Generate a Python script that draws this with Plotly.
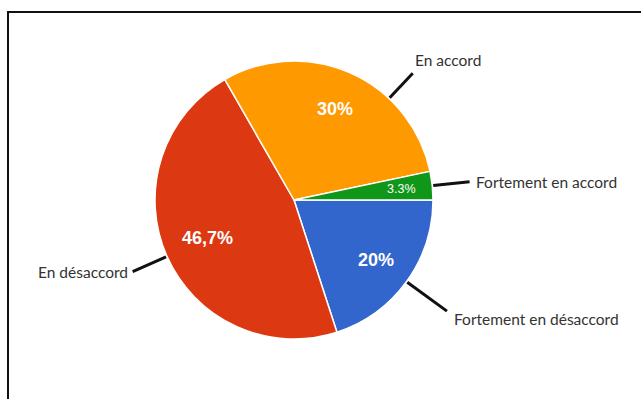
import math
import plotly.graph_objects as go

# Survey answers, clockwise from 3 o'clock
categories = ["Fortement en désaccord", "En désaccord", "En accord", "Fortement en accord"]
values = [20.0, 46.7, 30.0, 3.3]
pct_labels = ["20%", "46,7%", "30%", "3.3%"]
colors = ["#3366CC", "#DC3912", "#FF9900", "#109618"]

W, H = 641, 399
CX, CY, R = 294, 200, 139  # pie centre and radius in pixels

# label styling: leader angle nudge (deg), leader end radius factor,
# text anchors and pixel shifts
label_nudge = [0, 0, 19, 0]
leader_end = [1.36, 1.27, 1.25, 1.27]
anchors = [("left", "middle", 5, -8), ("right", "middle", -3, 0),
           ("left", "bottom", 0, 2), ("left", "middle", 4, 0)]
pct_radius = [0.73, 0.68, 0.72, 0.78]
pct_font = [dict(size=18, bold=True), dict(size=18, bold=True),
            dict(size=18, bold=True), dict(size=12.5, bold=False)]


def px(x, y):
    return x / W, 1 - y / H


fig = go.Figure(go.Pie(
    labels=categories,
    values=values,
    sort=False,
    direction="clockwise",
    rotation=90,
    marker=dict(colors=colors, line=dict(color="white", width=1.5)),
    textinfo="none",
    hoverinfo="label+percent",
    showlegend=False,
    domain=dict(x=[(CX - R) / W, (CX + R) / W], y=[1 - (CY + R) / H, 1 - (CY - R) / H]),
))

shapes = []
annotations = []
total = sum(values)
start = 0.0
for i, v in enumerate(values):
    sweep = v / total * 360
    mid = math.radians(start + sweep / 2)  # clockwise from east
    start += sweep

    # percentage inside the slice
    tx, ty = px(CX + pct_radius[i] * R * math.cos(mid), CY + pct_radius[i] * R * math.sin(mid))
    f = pct_font[i]
    annotations.append(dict(
        x=tx, y=ty, xref="paper", yref="paper", showarrow=False,
        xanchor="center", yanchor="middle",
        text=f"<b>{pct_labels[i]}</b>" if f["bold"] else pct_labels[i],
        font=dict(family="Liberation Sans, Arial", size=f["size"], color="white"),
    ))

    # leader line and category label
    a = mid + math.radians(label_nudge[i])
    x0, y0 = CX + (R + 1) * math.cos(a), CY + (R + 1) * math.sin(a)
    x1, y1 = CX + leader_end[i] * R * math.cos(a), CY + leader_end[i] * R * math.sin(a)
    p0, p1 = px(x0, y0), px(x1, y1)
    shapes.append(dict(type="line", xref="paper", yref="paper",
                       x0=p0[0], y0=p0[1], x1=p1[0], y1=p1[1],
                       line=dict(color="#111111", width=3)))
    xa, ya, dx, dy = anchors[i]
    annotations.append(dict(
        x=p1[0], y=p1[1], xref="paper", yref="paper", showarrow=False,
        xanchor=xa, yanchor=ya, xshift=dx, yshift=dy,
        text=categories[i],
        font=dict(family="Lato, Open Sans, sans-serif", size=15.5, color="#333333"),
    ))

# outer frame
shapes.append(dict(type="rect", xref="paper", yref="paper",
                   x0=8 / W, x1=1.05, y0=-0.05, y1=1 - 12 / H,
                   line=dict(color="#111111", width=2), fillcolor="rgba(0,0,0,0)"))

fig.update_layout(
    width=W, height=H,
    margin=dict(l=0, r=0, t=0, b=0),
    paper_bgcolor="white",
    plot_bgcolor="white",
    shapes=shapes,
    annotations=annotations,
)

fig.write_html("out.html")
